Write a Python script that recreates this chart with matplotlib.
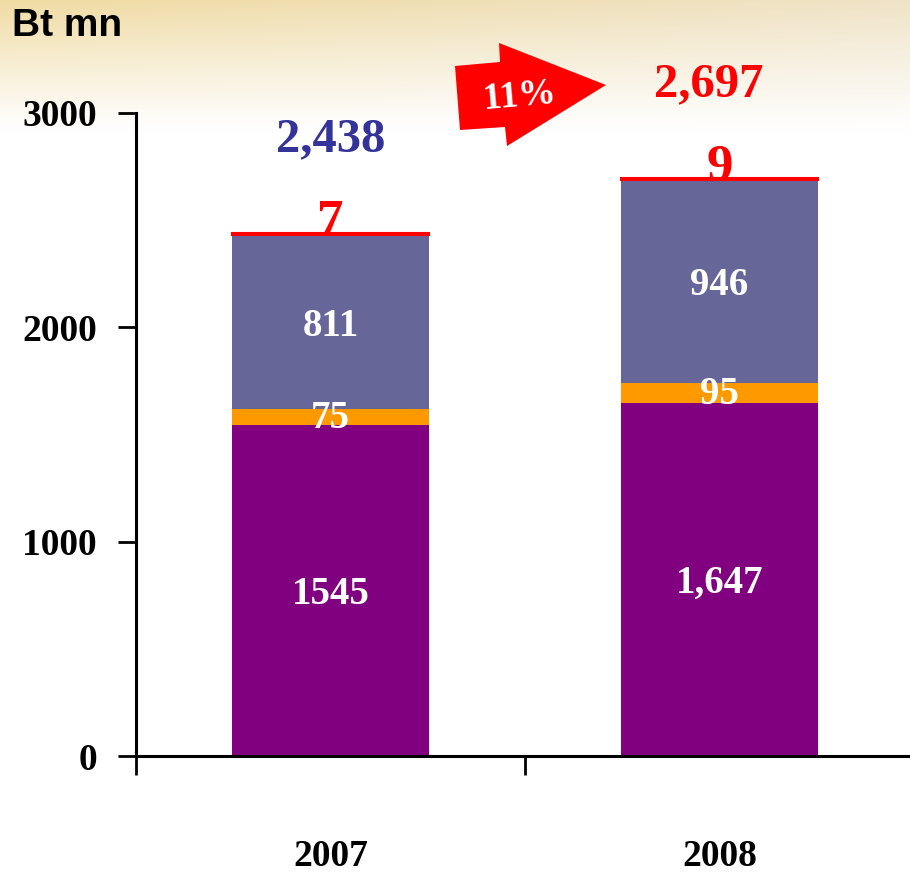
import numpy as np
import matplotlib
matplotlib.use("Agg")
from matplotlib import pyplot as plt
from matplotlib.patches import Polygon

years = ["2007", "2008"]
seg_bottom = [1545, 1647]
seg_orange = [75, 95]
seg_blue = [811, 946]
seg_red = [7, 9]
bottom_labels = ["1545", "1,647"]
orange_labels = ["75", "95"]
blue_labels = ["811", "946"]
red_labels = ["7", "9"]
total_labels = ["2,438", "2,697"]
total_colors = ["#333399", "#FF0000"]
growth = "11%"

serif = "Liberation Serif"

fig = plt.figure(figsize=(9.1, 8.76), dpi=100)

# slide background: warm gradient at the top fading to white
bg = fig.add_axes([0, 0, 1, 1], zorder=-5)
h, w = 876, 910
yy = np.linspace(0, 1, h)[:, None]
xx = np.linspace(0, 1, w)[None, :]
fade = np.clip(1 - yy / 0.15, 0, 1) ** 1.1
warm = np.stack([
    np.full((h, w), 0.94),
    0.86 + 0.03 * xx + 0 * yy,
    0.64 + 0.14 * xx + 0 * yy,
], axis=-1)
img = 1 - fade[..., None] * (1 - warm)
bg.imshow(img, aspect="auto", extent=[0, 1, 0, 1])
bg.axis("off")

ax = fig.add_axes([136 / 910, 1 - 756 / 876, 1 - 136 / 910, (756 - 113) / 876])
ax.patch.set_alpha(0)

x = np.arange(len(years)) + 0.5
width = 0.506
b1 = np.array(seg_bottom)
b2 = b1 + np.array(seg_orange)
b3 = b2 + np.array(seg_blue)
totals = b3 + np.array(seg_red)

ax.bar(x, seg_bottom, width, color="#800080", zorder=2)
ax.bar(x, seg_orange, width, bottom=b1, color="#FF9900", zorder=2)
ax.bar(x, seg_blue, width, bottom=b2, color="#666699", zorder=2)
ax.bar(x, seg_red, width, bottom=b3, color="#FF0000", zorder=2, edgecolor="#FF0000", linewidth=1.5)

lab = dict(ha="center", va="center", color="white", fontsize=28,
           fontweight="bold", family=serif, zorder=3)
for i in range(len(years)):
    ax.text(x[i], seg_bottom[i] / 2 - 20, bottom_labels[i], **lab)
    ax.text(x[i], b1[i] + seg_orange[i] / 2 - 8, orange_labels[i], **lab)
    ax.text(x[i], b2[i] + seg_blue[i] / 2 - 20, blue_labels[i], **lab)
    ax.annotate(red_labels[i], (x[i], totals[i]), xytext=(0, -2), textcoords="offset points",
                ha="center", va="baseline", color="#FF0000", fontsize=38,
                fontweight="bold", family=serif, zorder=1, annotation_clip=False)
    ax.annotate(total_labels[i], (x[i], totals[i]), xytext=(-8 * i, 59), textcoords="offset points",
                ha="center", va="baseline", color=total_colors[i], fontsize=35,
                fontweight="bold", family=serif, annotation_clip=False)

ax.set_xlim(0, (910 - 136) / 389)
ax.set_ylim(0, 3000)
ax.set_xticks([0, 1])
ax.set_xticklabels([])
ax.set_xticks(x, minor=True)
ax.set_xticklabels(years, minor=True, fontsize=27, fontweight="bold", family=serif)
ax.tick_params(axis="x", which="minor", length=0, pad=60)
ax.tick_params(axis="x", which="major", length=14, width=2, direction="out")
ax.set_yticks([0, 1000, 2000, 3000])
ax.set_yticklabels(["0", "1000", "2000", "3000"], fontsize=27, fontweight="bold", family=serif)
ax.tick_params(axis="y", length=13, width=2, direction="out", pad=15)
for s in ["top", "right"]:
    ax.spines[s].set_visible(False)
for s in ["left", "bottom"]:
    ax.spines[s].set_linewidth(2.2)

fig.text(12 / 910, 1 - 26 / 876, "Bt mn", ha="left", va="center", fontsize=28,
         fontweight="bold", family="Liberation Sans")

# growth arrow
pts = [(455, 66), (500, 62), (499, 43), (606, 85), (507, 146), (505, 127), (460, 130)]
arrow = Polygon([(px / 910, 1 - py / 876) for px, py in pts], closed=True,
                transform=fig.transFigure, facecolor="#FF0000", edgecolor="none")
fig.patches.append(arrow)
fig.text(519 / 910, 1 - 96 / 876, growth, ha="center", va="center", color="white",
         fontsize=27, fontweight="bold", family=serif, rotation=5)

fig.savefig("out.png", dpi=100)
